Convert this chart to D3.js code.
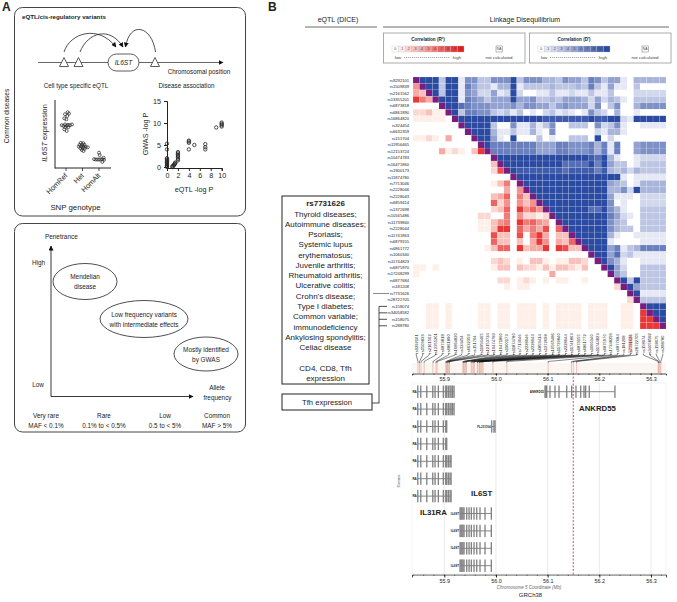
<!DOCTYPE html>
<html>
<head>
<meta charset="utf-8">
<script src="https://cdnjs.cloudflare.com/ajax/libs/d3/7.8.5/d3.min.js"></script>
<style>
 body { margin: 0; background: #fff; }
 svg { display: block; font-family: "Liberation Sans", Arial, sans-serif; }
 text { fill: #222; }
</style>
</head>
<body>
<div id="figure"></div>
<script type="text/javascript">
 // --- panel A values
 var genotypes = ["HomRef","Het","HomAlt"];
 // [genotype index, jitter, expression]
 var expressionPoints = [
   [0,.1,8.2],[0,.18,8],[0,-.06,7.9],[0,.08,7.65],[0,-.1,7.3],[0,.02,7.15],[0,-.26,6.3],[0,-.16,6.2],
   [0,-.06,6.4],[0,.04,6.2],[0,.12,6.35],[0,.24,6.3],[0,.36,6.4],[0,-.04,6],[0,.14,6],[0,-.1,5.7],[0,.04,5.45],
   [1,-.1,3.7],[1,.05,3.65],[1,-.18,3.4],[1,-.02,3.45],[1,.12,3.4],[1,-.22,3.15],[1,-.08,3.2],[1,.06,3.15],
   [1,.2,3.1],[1,.32,3.05],[1,-.12,2.9],[1,.02,2.95],[1,.14,2.85],[1,-.04,2.65],[1,.06,2.5],
   [2,0,2.25],[2,.04,1.9],[2,.28,1.5],[2,-.3,1.3],[2,-.2,1.25],[2,-.1,1.25],[2,0,1.25],[2,.1,1.25],[2,.2,1.3],[2,.3,1.2],[2,.2,.9]
 ];
 // [eQTL -log P, GWAS -log P]
 var associationPoints = [
   [0,5.3],[0,4],[0,2],[0,1.7],[0,1.5],[0,1.2],[0,1],[0,.7],[0,.4],[0,.2],[0,0],
   [1,0],[1,.2],[1.2,.3],[1.3,.5],[1.4,.7],[1.5,1],[1.5,.8],
   [2,1.5],[2,1.8],[2,2.2],[2,2.5],[2,2.8],[2,3.1],[2,3.4],
   [4,4],[4,5.5],[4,5.8],[4,6],[5,5],[7,4],[7,4.5],[7,5.2],
   [9,9],[10,9.2],[10,9.5],[10,9.8],[10,10.1]
 ];
 var gwasTicks = [0,5,10,15];
 var eqtlTicks = [0,2,4,6,8,10];
 var mafLabels = [["Very rare","MAF < 0.1%"],["Rare","0.1% to < 0.5%"],["Low","0.5 to < 5%"],["Common","MAF > 5%"]];

 // --- panel B values
 var diseaseLines = ["Thyroid diseases;","Autoimmune diseases;","Psoriasis;","Systemic lupus","erythematosus;","Juvenile arthritis;",
   "Rheumatoid arthritis;","Ulcerative colitis;","Crohn's disease;","Type I diabetes;","Common variable;","immunodeficiency",
   "Ankylosing spondylitis;","Celiac disease","","CD4, CD8, Tfh","expression"];
 var rsIds = ["rs9292101","rs1509839","rs2161562","rs13355201","rs6873818","rs6861890","rs16864820","rs324454","rs6632359","rs151704",
   "rs11956465","rs12153724","rs10474783","rs16471860","rs1900173","rs11874780","rs7713046","rs2228046","rs2228043","rs6859414",
   "rs1372698","rs10565486","rs11739840","rs2228044","rs11741863","rs6879155","rs6861772","rs1060340","rs11744823","rs6875970",
   "rs17248299","rs6877684","rs181208","rs7731626","rs28722705","rs158074","rs34058582","rs158075","rs288780"];
 // SNP position on chr5 (Mb), same order as rsIds
 var snpPositions = [55.849,55.852,55.855,55.861,55.878,55.884,55.886,55.903,55.904,55.906,55.907,55.909,55.910,
   55.936,55.937,55.939,55.941,55.943,55.952,55.954,55.957,55.958,55.964,55.965,55.968,55.969,55.971,55.973,55.975,
   55.994,56.021,56.101,56.146,56.1495,56.156,56.314,56.315,56.317,56.319];
 // one char per cell, 0-9 and a=1.0 in tenths: below the x is R2, above it is D'
 var ldRows = [
   "xaaa3 aa166 33666 a3666 44365 53763 55104 4444",
   "5xaa3 aa175 33144 a1333 34333 43731 51103 0000",
   "43xa3 aa165 22512 a2001 13112 11311 30002 2222",
   "964xa aa176 53555 a5563 34355 54252 43103 3333",
   "0000x aa876 66555 64665 53565 55260 36004 6666",
   "22311 xa377 66323 13010 23121 01632 04001 0000",
   "11111 0xaaa aaaaa aaaaa 99999 99a99 aa21a aaaa",
   "00000 00xaa aa300 61141 36003 33062 36100 1111",
   "00000 000xa aa411 31141 06000 00021 44100 0000",
   "11210 4000x aa510 a0003 01003 330a0 20000 0000",
   "00000 00000 xa777 77775 55776 66747 17005 6666",
   "00004 12103 9x777 77775 55776 66747 17005 6666",
   "00000 00000 00xaa aaaaa aaaaa aa98a 41001 2222",
   "00000 00000 003xa aaaaa aaa88 88a7a 53301 3333",
   "00000 00000 0028x a9999 99989 99979 43424 3333",
   "00000 00000 00000 xaaaa aaaaa aaaaa aa101 1111",
   "00000 00000 00136 0xaaa aaaaa aaaaa 54301 4444",
   "00000 00000 00004 05xaa aaaaa aaaaa 4462a 4444",
   "00000 00000 00347 063xa aaaaa aaaaa 51110 2222",
   "00000 00000 00725 0535x aaaaa aaaaa 60100 2222",
   "00000 00000 00237 09575 xaaaa aa88a 64100 3333",
   "00000 00000 22006 05221 2xaaa aaaaa 75210 3333",
   "00000 00000 11356 09675 40xaa aaaaa 64300 3333",
   "00000 00000 11399 07464 807xa aaaaa 64330 3333",
   "00000 00000 00833 08069 4033x aaaaa 41001 1111",
   "00000 00000 00733 03049 50437 xaaaa 10000 1111",
   "00000 00000 01377 09344 90983 3xaaa 57134 7777",
   "00000 00000 00000 00000 00000 00xaa 58231 1111",
   "00000 00000 00232 01033 10113 320xa 64100 1111",
   "11010 00000 00133 03221 31332 1300x a5200 3333",
   "10000 00000 00000 00000 04000 00000 x5300 3333",
   "00000 00000 00022 01210 10110 01000 0xa3a 3333",
   "00000 00000 00001 01100 00000 00000 02xa5 3333",
   "00000 00000 00000 00000 00000 00000 000xa 1111",
   "00000 00000 00000 00000 00000 00000 0002x 3333",
   "00110 10000 11011 01110 10111 10111 00110 xaaa",
   "00110 10000 11011 01110 10111 10111 00110 9xaa",
   "00110 10000 11011 01110 10111 10111 00110 99xa",
   "00110 10000 11011 01110 10111 10111 00110 999x"
 ];
 var legendLabels = ["0",".1",".2",".3",".4",".5",".6",".7",".8",".9","1"];
 var mbTicks = [55.9,56.0,56.1,56.2,56.3];
 var leadSnp = 56.1495;
 // exons in Mb
 var il31raExons = [55.8486,55.8544,55.866,55.8776,55.882,55.8884,55.898,55.9027,55.9046,55.9077,55.911,55.913,55.916,55.9188];
 var il6stExons = [55.9304,55.9322,55.934,55.936,55.9381,55.9433,55.9478,55.9522,55.9574,55.9627,55.969,55.9787,55.9909];
 var ankrd55Exons = [56.0948,56.0965,56.098,56.1044,56.1141,56.1219,56.1368,56.1464,56.1547,56.1638,56.1702,56.1735,56.1804,56.2301];
 var fljExons = [55.9917,55.996,55.9981];
 // [row, label, exons, last exon kept]
 var transcripts = [
   [0,"RA",il31raExons,14],[1,"RA",il31raExons,14],[2,"RA",il31raExons,9],[3,"RA",il31raExons,9],
   [4,"RA",il31raExons,12],[5,"RA",il31raExons,12],[6,"RA",il31raExons,12],
   [7,"IL6ST",il6stExons,13],[8,"IL6ST",il6stExons,13],[9,"IL6ST",il6stExons,13],[10,"IL6ST",il6stExons,13],
   [0,"ANKRD55",ankrd55Exons,14],[2,"FLJ31104",fljExons,3]
 ];
 var geneRows = d3.range(11);

 var width = 677, height = 602;
 var svg = d3.select("#figure").append("svg").attr("width", width).attr("height", height);
 var defs = svg.append("defs");
 defs.append("marker").attr("id","arrow").attr("viewBox","0 0 10 10").attr("refX",9).attr("refY",5)
   .attr("markerWidth",5).attr("markerHeight",5).attr("markerUnits","userSpaceOnUse").attr("orient","auto")
   .append("path").attr("d","M0,0L10,5L0,10Z").attr("fill","#111");

 function label(g, x, y, txt, size, opts){
   opts = opts || {};
   var t = g.append("text").attr("x",x).attr("y",y).text(txt).style("font-size",size+"px")
     .attr("text-anchor",opts.anchor || "middle");
   if(opts.bold) t.style("font-weight","bold");
   if(opts.italic) t.style("font-style","italic");
   if(opts.color) t.style("fill",opts.color);
   if(opts.rotate !== undefined) t.attr("transform","rotate("+opts.rotate+" "+x+" "+y+")");
   return t;
 }
 function roundBox(g, x, y, w, h){
   g.append("rect").attr("x",x).attr("y",y).attr("width",w).attr("height",h).attr("rx",8)
     .attr("fill","none").attr("stroke","#444").attr("stroke-width",1);
 }
 function plainLine(g, x1, y1, x2, y2, color, sw){
   return g.append("line").attr("x1",x1).attr("y1",y1).attr("x2",x2).attr("y2",y2).attr("stroke",color).attr("stroke-width",sw);
 }

 // ---------- panel A, top
 var a = svg.append("g");
 label(a,2,11,"A",12,{anchor:"start",bold:true});
 label(svg,268,11,"B",12,{anchor:"start",bold:true});
 label(a,9,116,"Common diseases",6.6,{rotate:-90});
 roundBox(a,14.5,7.5,231,208.5);
 label(a,22,18.5,"eQTL/cis-regulatory variants",6.2,{anchor:"start",bold:true});

 plainLine(a,38,62.5,223,62.5,"#666",1).attr("marker-end","url(#arrow)");
 a.append("rect").attr("x",108).attr("y",54).attr("width",31).attr("height",17).attr("rx",8.5).attr("fill","#fff").attr("stroke","#333").attr("stroke-width",.8);
 label(a,123.5,65,"IL6ST",6.6,{italic:true});
 [64,78.5,155].forEach(function(x){
   a.append("path").attr("d","M"+(x-4.5)+",66.5L"+x+",57.5L"+(x+4.5)+",66.5Z").attr("fill","#fff").attr("stroke","#333").attr("stroke-width",.8);
 });
 ["M64,52C70,33 98,24 116,47","M80,52C88,32 110,26 123,47","M155.5,52C152,26 130,20 125.5,47"].forEach(function(d){
   a.append("path").attr("d",d).attr("fill","none").attr("stroke","#222").attr("stroke-width",.8).attr("marker-end","url(#arrow)");
 });
 label(a,199,74,"Chromosomal position",6.3);
 label(a,76,87.5,"Cell type specific eQTL",6.3);
 label(a,186.5,88,"Disease association",6.3);

 // expression dot plot
 var exprX = d3.scaleLinear().domain([0,2]).range([66,99]);
 var exprY = d3.scaleLinear().domain([0,10]).range([168,100]);
 var exprG = a.append("g");
 plainLine(exprG,55,100,55,168.5,"#222",1);
 plainLine(exprG,55,168,111,168,"#222",1);
 exprG.selectAll(".tick-mark").data(genotypes).enter().append("line")
   .attr("x1",function(d,i){return exprX(i)}).attr("x2",function(d,i){return exprX(i)})
   .attr("y1",168).attr("y2",171).attr("stroke","#222").attr("stroke-width",.8);
 genotypes.forEach(function(d,i){
   label(exprG,exprX(i)+2,176,d,7.2,{anchor:"end",rotate:-45});
 });
 exprG.selectAll("circle").data(expressionPoints).enter().append("circle")
   .attr("cx",function(d){return exprX(d[0] + d[1])})
   .attr("cy",function(d){return exprY(d[2])})
   .attr("r",1.5).attr("fill","none").attr("stroke","#222").attr("stroke-width",.7);
 var yTitle = label(a,47,133,"",7.4,{rotate:-90});
 yTitle.append("tspan").style("font-style","italic").text("IL6ST");
 yTitle.append("tspan").text("  expression");
 label(a,75.5,209.5,"SNP genotype",7.8);

 // association scatter, built with d3 axes
 var gwasX = d3.scaleLinear().domain([0,10]).range([167,221.7]);
 var gwasY = d3.scaleLinear().domain([0,15]).range([167,101]);
 var gy = a.append("g").attr("transform","translate(167,0)").call(d3.axisLeft(gwasY).tickValues(gwasTicks).tickSize(3));
 var gx = a.append("g").attr("transform","translate(0,168)").call(d3.axisBottom(gwasX).tickValues(eqtlTicks).tickSize(3).tickPadding(1.5));
 [gy,gx].forEach(function(ax){
   ax.selectAll("text").style("font-size","7.2px").style("font-family","inherit");
   ax.selectAll("path,line").attr("stroke","#222");
   ax.select("path").attr("stroke-width",1);
 });
 a.selectAll(".assoc").data(associationPoints).enter().append("circle").attr("class","assoc")
   .attr("cx",function(d){return gwasX(d[0])})
   .attr("cy",function(d){return gwasY(d[1])})
   .attr("r",1.7).attr("fill","none").attr("stroke","#222").attr("stroke-width",.8);
 label(a,148,134,"GWAS -log P",7.2,{rotate:-90});
 label(a,194,192,"eQTL -log P",7.2);

 // ---------- panel A, bottom
 var p = svg.append("g");
 roundBox(p,14.5,223.5,231,208.5);
 label(p,45,239,"Penetrance",6.4,{anchor:"start"});
 plainLine(p,51,396.5,51,246,"#222",.9).attr("marker-end","url(#arrow)");
 plainLine(p,51,396.5,193,396.5,"#222",.9).attr("marker-end","url(#arrow)");
 label(p,38.5,264.5,"High",6.4);
 label(p,38,387,"Low",6.4);
 label(p,217,390,"Allele",6.4);
 label(p,217.5,400,"frequency",6.4);
 [[85,281.5,32,18,["Mendelian","disease"]],[144,319,44,18.5,["Low frequency variants","with intermediate effects"]],[206,354,32,17,["Mostly identified","by GWAS"]]].forEach(function(e){
   p.append("ellipse").attr("cx",e[0]).attr("cy",e[1]).attr("rx",e[2]).attr("ry",e[3]).attr("fill","#fff").attr("stroke","#222").attr("stroke-width",.8);
   label(p,e[0],e[1]-2.5,e[4][0],6.4);
   label(p,e[0],e[1]+7.5,e[4][1],6.4);
 });
 var mafX = [46,104,165,217];
 mafLabels.forEach(function(d,i){
   label(p,mafX[i],418,d[0],6.4);
   label(p,mafX[i],428,d[1],6.4);
 });

 // ---------- panel B, headers and legends
 var b = svg.append("g");
 label(b,338,22,"eQTL (DICE)",7);
 label(b,525,22,"Linkage Disequilibrium",7);
 plainLine(b,305,27,377,27,"#444",.8);
 plainLine(b,383,27,669,27,"#444",.8);

 var r2Color = d3.scaleLinear().domain([0,.1,1]).range(["#ffffff","#feefe9","#e5201f"]);
 var dColor = d3.scaleLinear().domain([0,.1,1]).range(["#ffffff","#e6e8f5","#2b4ba3"]);
 var diagColor = "#7a1c80";

 function ldLegend(x0, title, color){
   var g = b.append("g").attr("transform","translate("+x0+",0)");
   g.append("rect").attr("x",.5).attr("y",33).attr("width",141.5).attr("height",30).attr("fill","#fff").attr("stroke","#888").attr("stroke-width",.7);
   label(g,45,40.5,title,4.6,{bold:true});
   var cellX = d3.scaleBand().domain(legendLabels).range([9,81]);
   g.selectAll(".lg").data(legendLabels).enter().append("rect").attr("class","lg")
     .attr("x",function(d){return cellX(d)}).attr("y",46).attr("width",cellX.bandwidth()).attr("height",6)
     .attr("fill",function(d,i){return color(i/10)}).attr("stroke","#bbb").attr("stroke-width",.3);
   legendLabels.forEach(function(d){
     label(g,cellX(d)+cellX.bandwidth()/2,50.4,d,3.6,{color:"#444"});
   });
   label(g,15,59,"low",4.4,{color:"#444"});
   plainLine(g,21,57.5,67,57.5,"#555",.5).attr("stroke-dasharray","1.2,.8");
   label(g,74,59,"high",4.4,{color:"#444"});
   g.append("rect").attr("x",113).attr("y",46).attr("width",6.5).attr("height",6).attr("fill","#fff").attr("stroke","#555").attr("stroke-width",.4);
   label(g,116.2,50.4,"NA",3.4,{color:"#444"});
   label(g,116,59,"not calculated",4.4,{color:"#444"});
 }
 ldLegend(383,"Correlation  (R\u00b2)",r2Color);
 ldLegend(529,"Correlation  (D')",dColor);

 // ---------- LD matrix
 var rowY = d3.scaleBand().domain(rsIds).range([77,329]);
 var colX = d3.scaleBand().domain(rsIds).range([413,666]);
 var levels = ldRows.map(function(r){ return r.replace(/ /g,"").split(""); });
 var cells = [];
 levels.forEach(function(row,i){
   row.forEach(function(c,j){
     cells.push({row:rsIds[i], col:rsIds[j], i:i, j:j, v:c == "x" ? null : (c == "a" ? 1 : +c/10)});
   });
 });
 var hm = b.append("g");
 hm.selectAll("rect").data(cells).enter().append("rect")
   .attr("x",function(d){return colX(d.col)})
   .attr("y",function(d){return rowY(d.row)})
   .attr("width",colX.bandwidth()).attr("height",rowY.bandwidth())
   .attr("fill",function(d){
     if(d.v === null) return diagColor;
     return d.j > d.i ? dColor(d.v) : r2Color(d.v);
   })
   .attr("stroke","#fff").attr("stroke-width",.2).attr("stroke-opacity",.6);
 b.selectAll(".rowlabel").data(rsIds).enter().append("text").attr("class","rowlabel")
   .attr("x",409).attr("y",function(d){return rowY(d)+rowY.bandwidth()/2+1.4})
   .attr("text-anchor","end").style("font-size","4.1px").style("fill","#222")
   .text(function(d){return d});

 // ---------- disease boxes and brackets
 function squareBox(x,y,w,h){
   b.append("rect").attr("x",x).attr("y",y).attr("width",w).attr("height",h).attr("fill","#fff").attr("stroke","#222").attr("stroke-width",1);
 }
 squareBox(282,196,87,188);
 squareBox(282,394,90,16);
 label(b,325.5,205.5,"rs7731626",8,{bold:true});
 diseaseLines.forEach(function(d,i){
   if(d) label(b,325.5,216.5+i*10.28,d,8);
 });
 label(b,327,405,"Tfh expression",7.6);
 var leadRowY = rowY("rs7731626")+rowY.bandwidth()/2;
 plainLine(b,373,leadRowY,389,leadRowY,"#888",1);
 var lastRows = rsIds.slice(35);
 plainLine(b,379,rowY(lastRows[0])+rowY.bandwidth()/2,379,403,"#222",.8);
 plainLine(b,372,403,379.4,403,"#222",.8);
 lastRows.forEach(function(d){
   plainLine(b,379,rowY(d)+rowY.bandwidth()/2,387,rowY(d)+rowY.bandwidth()/2,"#222",.8);
 });

 // ---------- genomic coordinate
 var mbX = d3.scaleLinear().domain([55.8375,56.329]).range([412,666]);
 var minorTicks = d3.range(55.84,56.33,.02);
 var leadCol = colX("rs7731626")+colX.bandwidth()/2;
 b.append("rect").attr("x",leadCol-2).attr("y",335).attr("width",4).attr("height",18).attr("fill","#f6c9c9");
 b.selectAll(".collabel").data(rsIds).enter().append("text").attr("class","collabel")
   .attr("transform",function(d){return "translate("+(colX(d)+colX.bandwidth()/2+1.4)+",344) rotate(-90)"})
   .attr("text-anchor","middle").style("font-size","4.1px").style("fill","#111")
   .text(function(d){return d});

 // strip of SNP marks
 b.append("rect").attr("x",412).attr("y",363).attr("width",254).attr("height",10).attr("fill","#fbf6f2");
 b.selectAll(".snp").data(snpPositions).enter().append("line").attr("class","snp")
   .attr("x1",function(d){return mbX(d)}).attr("x2",function(d){return mbX(d)})
   .attr("y1",363).attr("y2",373).attr("stroke","#e08a7c").attr("stroke-width",.5);
 var connector = d3.line();
 b.selectAll(".conn").data(rsIds).enter().append("path").attr("class","conn")
   .attr("d",function(d,i){
     var cx = colX(d)+colX.bandwidth()/2;
     return connector([[cx,353.5],[cx,355],[mbX(snpPositions[i]),361.5],[mbX(snpPositions[i]),363]]);
   })
   .attr("fill","none").attr("stroke","#111").attr("stroke-width",.5);

 var topAxis = b.append("g").attr("transform","translate(0,373.5)")
   .call(d3.axisBottom(mbX).tickValues(mbTicks).tickFormat(d3.format(".1f")).tickSize(2).tickPadding(1.5));
 var geneAxis = b.append("g").attr("transform","translate(0,574.5)")
   .call(d3.axisBottom(mbX).tickValues(mbTicks).tickFormat(d3.format(".1f")).tickSize(3).tickPadding(2));
 [topAxis,geneAxis].forEach(function(ax){
   ax.selectAll("text").style("font-size","5.4px").style("font-family","inherit");
   ax.selectAll("path,line").attr("stroke","#222");
   ax.select("path").attr("stroke-width",.8);
   ax.selectAll(".minor").data(minorTicks).enter().append("line").attr("class","minor")
     .attr("x1",function(d){return mbX(d)}).attr("x2",function(d){return mbX(d)})
     .attr("y1",0).attr("y2",1.5).attr("stroke","#222").attr("stroke-width",.5);
 });

 // gene panel
 var rowScale = d3.scalePoint().domain(geneRows).range([391.7,565.7]);
 var genes = b.append("g");
 genes.append("rect").attr("x",412).attr("y",383).attr("width",254).attr("height",191).attr("fill","none").attr("stroke","#eee").attr("stroke-width",.6);
 genes.selectAll(".grid").data(mbTicks).enter().append("line").attr("class","grid")
   .attr("x1",function(d){return mbX(d)}).attr("x2",function(d){return mbX(d)})
   .attr("y1",383).attr("y2",574).attr("stroke","#e4e4e4").attr("stroke-width",.8);
 genes.append("line").attr("x1",mbX(leadSnp)).attr("x2",mbX(leadSnp)).attr("y1",373).attr("y2",574.5)
   .attr("stroke","#c4203c").attr("stroke-width",.8).attr("stroke-dasharray","2,1.5");
 transcripts.forEach(function(t){
   var y = rowScale(t[0]);
   var exons = t[2].slice(0,t[3]);
   var g = genes.append("g");
   plainLine(g,mbX(exons[0]),y,mbX(exons[exons.length-1]),y,"#333",.6);
   g.selectAll("rect").data(exons).enter().append("rect")
     .attr("x",function(d){return mbX(d)-.6})
     .attr("y",y-6.2).attr("width",1.3).attr("height",12.4).attr("fill","#808080");
   label(g,mbX(exons[0])-1,y+1,t[1],3,{anchor:"end",bold:true});
 });
 label(genes,579,410.5,"ANKRD55",7.8,{anchor:"start",bold:true});
 label(genes,471,495.5,"IL6ST",7.8,{anchor:"start",bold:true});
 label(genes,420,515,"IL31RA",7.8,{anchor:"start",bold:true});
 label(genes,400,481,"Genes",4.4,{rotate:-90,color:"#555"});
 label(genes,529,589,"Chromosome 5 Coordinate (Mb)",4.5,{italic:true,color:"#666"});
 label(genes,530.5,597,"GRCh38",6);
</script>
</body>
</html>
